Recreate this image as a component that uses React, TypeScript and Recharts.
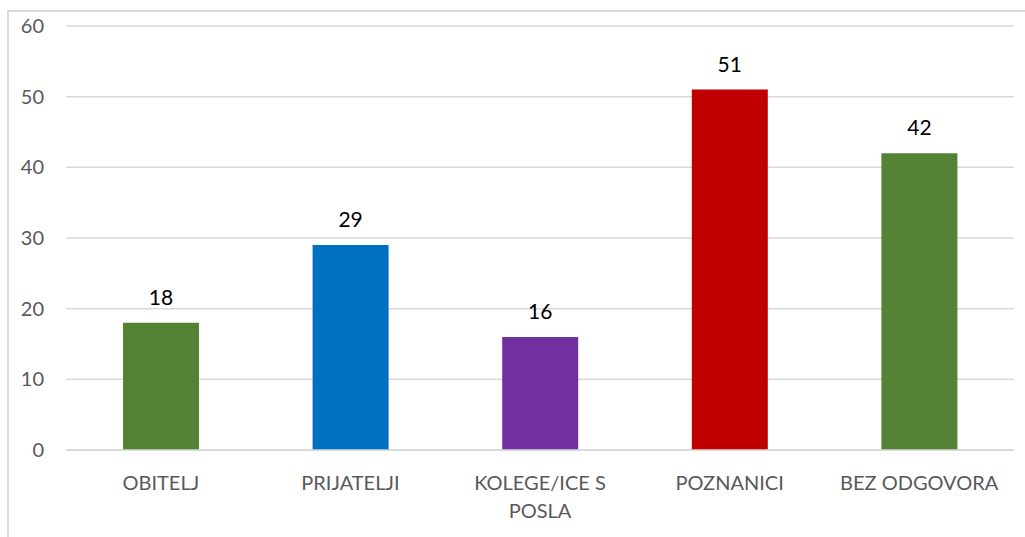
import React from "react";
import { BarChart, Bar, Cell, CartesianGrid, XAxis, YAxis, LabelList } from "recharts";

const categories = ["OBITELJ", "PRIJATELJI", "KOLEGE/ICE S POSLA", "POZNANICI", "BEZ ODGOVORA"];
const values = [18, 29, 16, 51, 42];
const barColors = ["#548235", "#0070C0", "#7030A0", "#C00000", "#548235"];
const yTicks = [0, 10, 20, 30, 40, 50, 60];

const data = categories.map((name, i) => ({ name, value: values[i] }));

const FONT = "Lato, 'Open Sans', sans-serif";

// wrap long category names the way the spreadsheet does (about 12 chars per line)
function wrap(label: string, max = 12) {
  const words = label.split(" ");
  const lines: string[] = [];
  let cur = "";
  words.forEach((w) => {
    const next = cur ? cur + " " + w : w;
    if (next.length > max && cur) {
      lines.push(cur);
      cur = w;
    } else {
      cur = next;
    }
  });
  if (cur) lines.push(cur);
  return lines;
}

const CategoryTick = (props: any) => {
  const { x, y, payload } = props;
  const lines = wrap(payload.value);
  return (
    <text x={x} y={y} textAnchor="middle" fill="#595959" fontSize={20} fontFamily={FONT}>
      {lines.map((l, i) => (
        <tspan key={i} x={x} dy={i === 0 ? 32 : 28}>
          {l}
        </tspan>
      ))}
    </text>
  );
};

export default function App() {
  return (
    <div style={{ position: "fixed", left: 0, top: 0, width: 1025, height: 537, overflow: "hidden", background: "#fff" }}>
      <div
        style={{
          position: "absolute",
          left: 7,
          top: 10,
          width: 1100,
          height: 600,
          borderLeft: "2px solid #d9d9d9",
          borderTop: "2px solid #d9d9d9",
        }}
      />
      <div style={{ position: "absolute", left: 0, top: 0 }}>
        <BarChart width={1025} height={537} data={data} margin={{ top: 26, right: 11, bottom: 7, left: 0 }}>
          <CartesianGrid vertical={false} stroke="#d9d9d9" strokeWidth={1.5} />
          <XAxis
            dataKey="name"
            interval={0}
            height={80}
            tickLine={false}
            axisLine={{ stroke: "#d9d9d9", strokeWidth: 1.5 }}
            tick={<CategoryTick />}
          />
          <YAxis
            width={66}
            domain={[0, 60]}
            ticks={yTicks}
            tickLine={false}
            axisLine={false}
            tickSize={0}
            tickMargin={22}
            tick={{ fill: "#595959", fontSize: 20, fontFamily: FONT }}
          />
          <Bar dataKey="value" barSize={76} isAnimationActive={false}>
            {data.map((d, i) => (
              <Cell key={d.name} fill={barColors[i]} />
            ))}
            <LabelList dataKey="value" position="top" offset={18} fill="#000" fontSize={21} fontFamily={FONT} />
          </Bar>
        </BarChart>
      </div>
    </div>
  );
}
